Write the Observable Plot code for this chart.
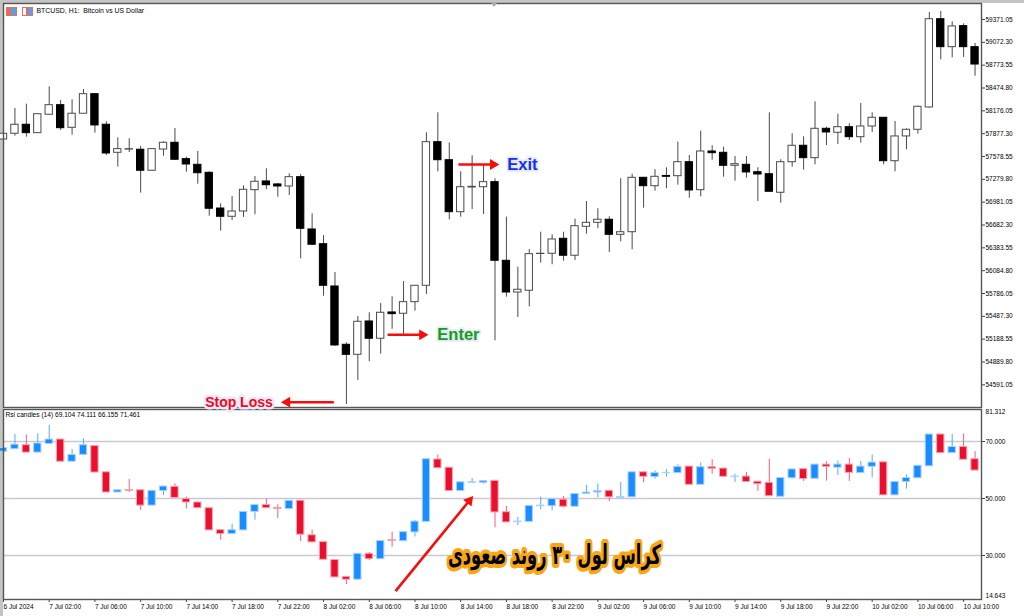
<!DOCTYPE html>
<html><head><meta charset="utf-8">
<script src="https://cdn.jsdelivr.net/npm/d3@7"></script>
<script src="https://cdn.jsdelivr.net/npm/@observablehq/plot@0.6"></script>
<style>
html,body{margin:0;padding:0;background:#c4c4c4;width:1024px;height:616px;overflow:hidden}
#sheet{position:absolute;left:3px;top:3px;width:1021px;height:613px;background:#fff}
#main,#rsi{position:absolute;left:0}
#main{top:0;z-index:2}
#rsi{top:409px;z-index:1}
.ic{position:absolute;top:7px;width:9px;height:7px;border:1px solid #e8705a;z-index:3}
#ic1{left:6px;background:linear-gradient(90deg,#e86a5a 50%,#5aa0e8 50%)}
#ic2{left:22px;background:linear-gradient(90deg,#fff 30%,#e86a5a 30%,#e86a5a 55%,#5aa0e8 55%)}
#notch{position:absolute;left:491px;top:3px;width:0;height:0;border-left:3px solid transparent;border-right:3px solid transparent;border-top:4px solid #aaa;z-index:3}
</style></head><body>
<div id="sheet"></div><div class="ic" id="ic1"></div><div class="ic" id="ic2"></div><div id="notch"></div>
<div id="main"></div><div id="rsi"></div>
<script>
const priceOpen=[57801,57876,57994,57884,58125,58250,57954,58138,58394,57994,57627,57669,57667,57392,57670,57758,57544,57470,57365,56898,56790,56859,57138,57252,57213,57186,57308,56624,56431,55878,55115,54984,55420,55194,55538,55521,55673,55887,57766,57530,56850,57173,57177,57243,56214,55799,55822,56303,56306,56502,56280,56659,56711,56751,56554,56588,57300,57190,57324,57321,57504,57138,57644,57627,57457,57470,57373,57347,57104,57504,57719,57557,57941,57889,57962,57831,57971,58085,57517,57841,57928,58220,59375,59009,59284,59009];
const priceClose=[57876,57994,57884,58132,58250,57949,58138,58394,57985,57618,57675,57675,57392,57675,57758,57536,57474,57360,56895,56790,56859,57143,57248,57203,57186,57308,56633,56424,55887,55106,54984,55416,55194,55534,55516,55673,55887,57766,57530,56850,57177,57182,57243,56214,55799,55835,56301,56306,56493,56280,56667,56711,56751,56554,56588,57300,57190,57313,57313,57504,57134,57644,57622,57457,57478,57370,57343,57117,57504,57719,57557,57941,57893,57962,57831,57971,58085,57517,57841,57928,58229,59375,59009,59280,59009,58782];
const priceHigh=[57883,58207,58263,58132,58491,58312,58321,58455,58394,58033,57823,57810,57710,57675,57771,57945,57570,57644,57379,56960,57055,57195,57317,57418,57226,57352,57343,56829,56545,56061,55141,55485,55534,55655,55743,55943,55887,57889,58150,57758,57379,57588,57461,57287,56785,56130,56362,56588,56554,56588,56758,56990,56895,56790,57287,57347,57300,57405,57431,57766,57592,57910,57719,57701,57579,57579,57431,58150,57536,57876,57836,58295,57962,58132,58007,58272,58150,58085,58037,57941,58237,59463,59476,59341,59315,59057];
const priceLow=[57801,57845,57831,57884,58119,57919,57858,58138,57884,57592,57439,57631,57099,57392,57583,57527,57373,57216,56798,56601,56742,56781,56816,57143,57046,57068,56240,56414,55751,55097,54334,54648,54893,54992,55319,55246,55555,55773,57379,56751,56785,56885,56820,55167,55738,55472,55612,56183,56162,56209,56218,56562,56633,56323,56463,56358,56902,57125,57156,57203,57033,57051,57530,57308,57256,57295,56990,57117,56968,57439,57400,57470,57723,57736,57788,57753,57893,57470,57379,57667,57871,58211,58844,58870,58874,58629];
const rsiOpen=[66.4,67.3,68.7,66.1,69.1,70.7,62.9,65.3,68.4,59.2,52.1,53.0,52.9,47.5,52.6,54.1,49.8,48.6,46.6,38.9,37.5,38.8,45.3,47.7,46.7,46.3,49.2,37.1,34.7,28.4,22.5,21.5,30.6,28.7,35.4,35.0,38.1,41.8,63.7,60.8,52.6,55.5,55.5,56.2,45.2,41.7,41.8,47.3,47.3,49.6,47.1,51.6,52.1,52.7,50.2,50.4,59.2,57.5,58.9,58.9,61.2,54.8,61.0,60.5,57.6,57.7,55.9,55.5,50.6,57.1,60.3,56.9,61.9,60.8,61.9,58.9,61.1,62.7,51.1,55.8,57.1,61.3,72.45,65.9,68.1,63.8];
const rsiClose=[67.7,68.9,66.1,69.3,70.7,62.9,65.3,68.7,59.1,52.1,52.9,52.7,47.5,52.7,54.2,50.2,48.6,46.6,38.8,37.5,38.9,45.3,47.7,46.6,46.3,49.2,37.3,34.6,28.5,22.3,21.5,30.6,28.7,35.1,35.1,38.2,41.9,63.8,60.6,52.6,55.7,55.7,56.1,45.1,41.6,41.9,47.4,47.5,49.8,47.1,51.6,52.1,52.6,50.4,50.5,59.2,57.6,58.9,59.0,61.1,54.8,61.0,60.4,57.6,57.7,55.8,55.0,50.8,57.2,60.2,56.8,61.9,61.1,61.9,59.0,61.2,62.6,51.1,55.8,57.2,61.5,72.45,65.9,68.1,63.6,59.8];
const rsiHigh=[67.7,72.5,72.3,72.7,75.6,70.7,67.2,70.9,68.4,59.2,52.9,56.7,52.9,52.7,54.4,55.1,50.5,48.6,46.6,38.9,41.0,45.3,47.7,49.8,47.8,49.2,49.2,38.9,34.7,28.4,22.5,30.6,31.05,35.1,38.2,38.2,42.3,63.8,65.3,60.8,55.7,57.0,56.1,56.2,47.2,43.4,47.4,50.5,49.8,50.7,51.6,54.6,55.1,52.7,55.7,59.2,59.2,59.7,60.2,61.8,61.2,62.5,63.6,60.5,58.5,59.2,55.9,63.8,57.2,60.2,60.3,61.9,62.9,63.2,64.0,63.0,65.3,62.7,55.8,58.3,61.5,72.45,72.45,72.45,72.7,66.5];
const rsiLow=[66.4,67.3,66.1,66.1,69.1,62.9,62.9,65.3,59.1,52.1,52.1,52.1,45.8,47.5,51.0,50.2,46.3,46.6,38.8,35.4,37.5,38.8,42.4,46.6,43.0,46.0,34.9,34.6,28.5,22.3,19.8,21.5,28.2,28.7,32.9,35.0,36.5,41.8,60.6,52.6,52.6,55.5,55.0,39.7,41.6,40.5,41.8,46.1,45.7,46.6,47.1,51.6,50.2,48.9,50.2,50.4,55.5,56.8,57.5,58.9,54.8,54.8,58.5,57.6,55.6,55.8,52.5,50.8,50.6,56.8,56.0,56.9,56.1,58.1,56.0,58.9,57.25,51.1,51.1,53.3,57.1,61.3,65.9,65.9,63.6,59.8];
const priceTicks=[59371.05,59072.30,58773.55,58474.80,58176.05,57877.30,57578.55,57279.80,56981.05,56682.30,56383.55,56084.80,55786.05,55487.30,55188.55,54889.80,54591.05];
const rsiTicks=[70,50,30];
const timeTicks=[0,4,8,12,16,20,24,28,32,36,40,44,48,52,56,60,64,68,72,76,80,84];
const timeLabels=["6 Jul 2024","7 Jul 02:00","7 Jul 06:00","7 Jul 10:00","7 Jul 14:00","7 Jul 18:00","7 Jul 22:00","8 Jul 02:00","8 Jul 06:00","8 Jul 10:00","8 Jul 14:00","8 Jul 18:00","8 Jul 22:00","9 Jul 02:00","9 Jul 06:00","9 Jul 10:00","9 Jul 14:00","9 Jul 18:00","9 Jul 22:00","10 Jul 02:00","10 Jul 06:00","10 Jul 10:00"];

const font="'Liberation Sans',sans-serif";
const xScale={domain:[0,85],range:[3,974.55],axis:null};
const halfBody=0.32;
function table(o,h,l,c){return o.map((v,i)=>({i,open:v,high:h[i],low:l[i],close:c[i],up:c[i]>=v}));}
const priceRows=table(priceOpen,priceHigh,priceLow,priceClose);
const rsiRows=table(rsiOpen,rsiHigh,rsiLow,rsiClose);

const arrowRed="#f80d0d";
const annPrice=[
 {x1:28.9,x2:24.55,y:54364,rot:-90,dx:3},
 {x1:33.6,x2:36.9,y:55246,rot:90,dx:-3},
 {x1:39.8,x2:43.1,y:57474,rot:90,dx:-3}];
const annLabels=[
 {x:20.6,y:54365,t:"Stop Loss",c:"#f4071a",s:"14px",h:"#e9e9fc",w:5},
 {x:39.8,y:55250,t:"Enter",c:"#12a012",s:"16.5px",h:"#e8e8fc",w:3.5},
 {x:45.4,y:57470,t:"Exit",c:"#1530ea",s:"16.5px",h:"#e8e8fc",w:3.5}];

const main=Plot.plot({width:1024,height:416,marginTop:3,marginBottom:9,marginLeft:3,marginRight:43,
 style:{background:"transparent",fontFamily:font,fontSize:"6.5px",overflow:"visible",color:"#000"},
 x:xScale,
 y:{domain:[59371.05,55786.05],range:[19,293],axis:null},
 marks:[
  Plot.ruleX(priceRows,{x:"i",y1:"low",y2:"high",stroke:"#4a4a4a",strokeWidth:1}),
  Plot.rect(priceRows,{x1:d=>d.i-halfBody,x2:d=>d.i+halfBody,y1:"open",y2:"close",fill:d=>d.up?"#fff":"#000",stroke:d=>d.up?"#4a4a4a":"#000",strokeWidth:1}),
  Plot.axisY(priceTicks,{anchor:"right",tickSize:3,tickPadding:1,tickFormat:d3.format(".2f"),label:null,stroke:"#444"}),
  Plot.frame({stroke:"#555",strokeWidth:1.4}),
  Plot.text(["BTCUSD, H1:  Bitcoin vs US Dollar"],{frameAnchor:"top-left",dx:33,dy:5,lineAnchor:"top",textAnchor:"start",fontSize:6.9}),
  Plot.link(annPrice,{x1:"x1",x2:"x2",y1:"y",y2:"y",stroke:arrowRed,strokeWidth:2.6}),
  ...annPrice.map(a=>Plot.dot([a],{x:"x2",y:"y",symbol:"triangle",r:4,fill:arrowRed,rotate:a.rot,dx:a.dx})),
  ...annLabels.map(a=>Plot.text([a],{x:"x",y:"y",text:"t",fill:"c",stroke:"h",strokeWidth:a.w,fontWeight:"bold",fontSize:a.s}))
 ]});
document.getElementById("main").append(main);

const crossArrow=[{x1:34.3,y1:17.5,x2:40.75,y2:49.2}];
const persianLabel="کراس لول ۳۰ روند صعودی";
const rsiPlot=Plot.plot({width:1024,height:207,marginTop:0,marginBottom:17,marginLeft:3,marginRight:43,
 style:{background:"transparent",fontFamily:font,fontSize:"6.5px",overflow:"visible",color:"#000"},
 x:xScale,
 y:{domain:[70,30],range:[32,146],axis:null},
 marks:[
  Plot.ruleY(rsiTicks,{stroke:"#c9c9d6",strokeWidth:1.6}),
  Plot.ruleX(rsiRows,{x:"i",y1:"low",y2:"high",stroke:d=>d.up?"#58aaf8":"#f0617c",strokeWidth:1}),
  Plot.rect(rsiRows,{x1:d=>d.i-halfBody,x2:d=>d.i+halfBody,y1:"open",y2:"close",fill:d=>d.up?"#1a8cff":"#e8102e",stroke:d=>d.up?"#a8d4fb":"#f7a4b2",strokeWidth:1}),
  Plot.axisY(rsiTicks,{anchor:"right",tickSize:3,tickPadding:1,tickFormat:d3.format(".3f"),label:null,stroke:"#444"}),
  Plot.axisX(timeTicks,{anchor:"bottom",tickSize:3,tickPadding:2,textAnchor:"start",tickFormat:d=>timeLabels[timeTicks.indexOf(d)],label:null,stroke:"#444"}),
  Plot.text([81.312],{x:()=>85.92,y:d=>d,text:d=>d3.format(".3f")(d),textAnchor:"start",dy:3}),
  Plot.text([14.643],{x:()=>85.92,y:d=>d,text:d=>d3.format(".3f")(d),textAnchor:"start",dy:-3}),
  Plot.frame({stroke:"#555",strokeWidth:1.4}),
  Plot.text(["Rsi candles (14) 69.104 74.111 66.155 71.461"],{frameAnchor:"top-left",dx:2,dy:3,lineAnchor:"top",textAnchor:"start",fontSize:6.6}),
  Plot.link(crossArrow,{x1:"x1",y1:"y1",x2:"x2",y2:"y2",stroke:arrowRed,strokeWidth:2.6}),
  Plot.dot(crossArrow,{x:"x2",y:"y2",symbol:"triangle",r:4,fill:arrowRed,rotate:39}),
  Plot.text([persianLabel],{x:()=>48.2,y:()=>29.9,fill:"#000",stroke:"#f7a716",strokeWidth:8,fontWeight:"bold",fontFamily:"'DejaVu Sans'",fontSize:27})
 ]});
document.getElementById("rsi").append(rsiPlot);
const label=[...rsiPlot.querySelectorAll("text")].find(t=>t.textContent===persianLabel);
if(label){label.setAttribute("textLength","213");label.setAttribute("lengthAdjust","spacingAndGlyphs");}
</script></body></html>
